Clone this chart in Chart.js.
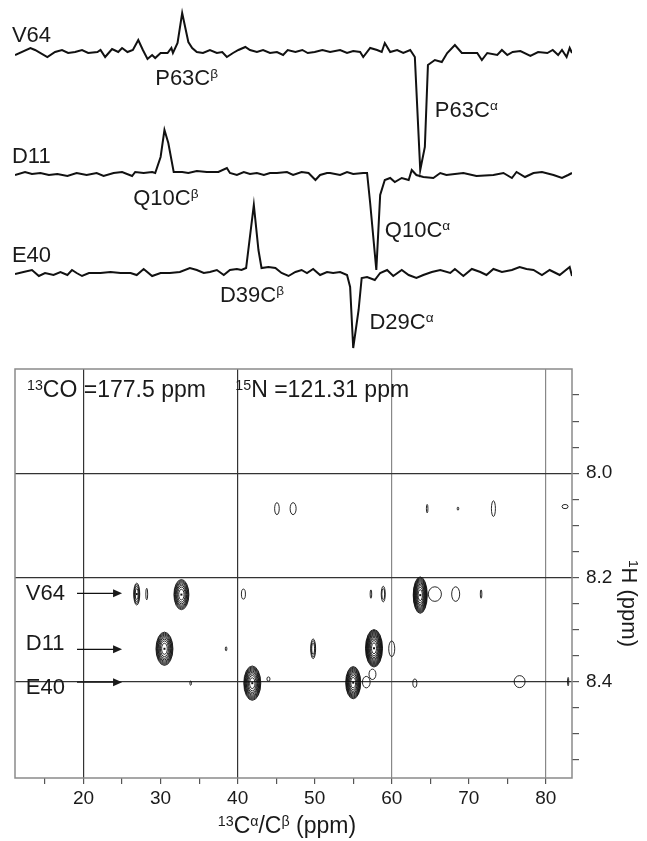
<!DOCTYPE html>
<html>
<head>
<meta charset="utf-8">
<script src="https://cdn.jsdelivr.net/npm/chart.js"></script>
<style>
  html, body { margin: 0; padding: 0; background: #fff; }
  #wrap { position: relative; width: 647px; height: 841px; }
  canvas { position: absolute; left: 0; }
  #traces { top: 0; }
  #plane { top: 360px; }
</style>
</head>
<body>
<div id="wrap">
  <canvas id="traces" width="647" height="360"></canvas>
  <canvas id="plane" width="647" height="481"></canvas>
</div>
<script>
// 1D strips (13C ppm, intensity) taken at each amide row
const v64X = [11.1,13.1,13.7,15.3,16.3,17.2,18.0,18.9,19.8,20.6,21.8,22.2,22.8,23.7,24.5,25.0,25.7,26.4,27.1,27.7,28.3,28.9,29.3,30.0,30.9,31.4,31.6,32.2,32.8,33.6,34.1,34.7,35.5,36.4,37.3,38.0,38.6,39.4,40.1,41.0,41.6,42.5,43.3,44.2,45.1,45.9,46.5,47.5,48.4,49.1,50.0,51.0,52.0,53.3,54.2,55.0,55.9,56.3,57.2,58.1,58.7,59.1,59.8,60.7,61.5,62.4,63.0,63.7,64.3,64.7,65.6,66.5,67.2,68.2,69.1,70.2,71.1,71.7,72.4,73.7,74.3,75.0,75.7,76.7,78.0,79.0,80.2,80.9,81.6,82.1,82.7,83.1,83.4];
const v64Y = [-3,4,2,-5,0,2,-1,0,2,-1,0,2,-5,3,0,4,0,2,12,2,-7,-3,-6,-1,-1,4,-1,9,39,10,4,0,-1,2,-1,0,-5,-1,2,5,2,0,2,-1,0,-3,2,0,2,-1,0,2,0,2,-1,1,0,-5,4,2,0,9,0,2,-1,2,-5,-118,-95,-13,-8,-10,-1,7,-1,-1,-1,-8,-1,-3,2,-3,0,1,-4,0,-1,2,-3,2,-5,4,-1];

const d11X = [11.1,12.4,13.3,14.4,15.5,16.6,17.9,19.1,20.4,21.7,22.6,23.9,25.0,26.3,26.7,27.8,28.9,29.3,30.0,30.5,31.0,31.7,32.8,33.6,34.7,36.0,37.5,38.6,39.0,39.9,40.8,41.6,42.5,43.4,44.2,45.1,46.4,47.2,48.3,49.2,50.1,50.7,51.6,52.0,53.3,54.2,55.0,56.3,56.8,57.2,58.0,58.5,59.1,59.8,60.4,61.3,62.2,62.6,63.2,64.1,65.4,66.3,67.1,69.3,71.0,73.2,74.5,75.6,76.2,77.3,78.4,79.5,81.0,82.1,82.9,83.4];
const d11Y = [-2,1,-1,0,-2,-1,-3,0,-2,0,-3,0,1,-3,1,0,1,0,16,43,30,1,1,0,2,1,1,5,0,-2,1,-1,0,-2,0,0,1,-2,1,0,-7,-2,0,0,-2,1,-1,0,0,-30,-97,-22,-7,-5,-9,-5,-7,3,-2,-4,-5,0,-2,0,-3,-2,0,-5,1,-4,0,1,-2,-5,-2,0];

const e40X = [11.1,12.2,13.3,14.2,15.0,16.1,17.0,17.9,18.5,19.1,19.8,20.7,22.2,23.5,24.8,26.1,26.9,27.8,28.9,30.0,31.2,32.5,33.8,34.7,35.6,36.4,37.3,38.2,39.0,39.9,40.5,41.1,42.1,42.7,43.1,44.0,44.9,45.7,46.6,47.5,48.3,49.0,49.8,50.7,51.6,52.4,53.3,54.2,54.6,55.0,55.7,56.1,56.8,57.8,58.5,59.4,60.2,61.3,62.2,63.2,64.1,65.2,66.3,67.6,68.2,69.3,70.4,71.5,72.3,73.2,74.3,75.6,76.6,77.5,78.4,79.5,80.5,81.8,83.1,83.4];
const e40Y = [-2,0,2,-4,-1,-3,0,-3,2,-1,-4,-1,-1,0,-1,-1,-3,3,-4,-1,-1,0,4,2,-1,0,2,-3,2,3,2,4,67,22,4,5,4,-1,-4,0,2,-1,3,-3,0,-1,0,-3,-15,-76,-38,-6,-5,-8,-1,2,-4,2,-3,-6,-3,0,2,-1,3,-4,3,0,-3,3,0,2,5,3,2,-3,2,-3,5,-4];

// strip labels: text, 13C ppm, strip value
const stripNames = ['V64', 'D11', 'E40'];
const stripBase = [308, 187, 88];
const peakNames = [['P63C', 'β'], ['P63C', 'α'], ['Q10C', 'β'], ['Q10C', 'α'], ['D39C', 'β'], ['D29C', 'α']];
const peakNameX = [29.3, 65.6, 26.45, 59.1, 37.7, 57.1];
const peakNameY = [275, 243, 155, 123, 58, 31];

// 2D peaks: 13C ppm, 1H ppm, half widths (ppm), contour levels
const peakC = [26.9, 28.2, 32.7, 40.75, 57.3, 58.9, 63.7, 65.6, 68.3, 71.6, 30.5, 38.5, 49.8, 57.7, 60.0, 33.9, 41.9, 44.0, 55.0, 56.7, 57.5, 63.0, 76.6, 82.9, 45.1, 47.2, 64.6, 68.6, 73.2, 82.5];
const peakH = [8.232, 8.232, 8.233, 8.232, 8.232, 8.232, 8.234, 8.232, 8.232, 8.232, 8.337, 8.337, 8.337, 8.336, 8.337, 8.403, 8.403, 8.395, 8.402, 8.401, 8.386, 8.403, 8.400, 8.400, 8.068, 8.068, 8.068, 8.068, 8.068, 8.064];
const peakWC = [0.39, 0.12, 0.97, 0.26, 0.10, 0.26, 0.91, 0.85, 0.52, 0.10, 1.10, 0.10, 0.32, 1.10, 0.39, 0.10, 1.10, 0.20, 0.97, 0.50, 0.45, 0.26, 0.71, 0.07, 0.30, 0.39, 0.10, 0.10, 0.26, 0.39];
const peakWH = [0.021, 0.011, 0.029, 0.0096, 0.008, 0.015, 0.035, 0.014, 0.014, 0.008, 0.032, 0.004, 0.019, 0.036, 0.015, 0.004, 0.033, 0.004, 0.031, 0.011, 0.010, 0.008, 0.0115, 0.008, 0.0115, 0.0115, 0.008, 0.003, 0.015, 0.004];
const peakLevels = [4, 1, 8, 1, 1, 2, 11, 1, 1, 1, 9, 1, 3, 12, 1, 1, 10, 1, 10, 1, 1, 1, 1, 1, 1, 1, 1, 1, 1, 1];

// row markers in the 2D plane
const rowNames = ['V64', 'D11', 'E40'];
const rowH = [8.2305, 8.338, 8.401];
const rowNameC = 12.5;
const rowNameH = [8.243, 8.339, 8.424];
const arrowFrom = 19.15, arrowTo = 25.0;

// axes
const cMin = 11.1, cMax = 83.4;
const hMin = 7.80, hMax = 8.585;
const xTicks = [15, 20, 25, 30, 35, 40, 45, 50, 55, 60, 65, 70, 75, 80];
const xTickLabels = [20, 30, 40, 50, 60, 70, 80];
const xGridDark = [20, 40];
const xGridLight = [60, 80];
const yTicks = [7.85, 7.9, 7.95, 8.0, 8.05, 8.1, 8.15, 8.2, 8.25, 8.3, 8.35, 8.4, 8.45, 8.5, 8.55];
const yTickLabels = [8.0, 8.2, 8.4];

const FONT = '"Liberation Sans", Arial, Helvetica, sans-serif';
const INK = '#1a1a1a';

function near(v, list) {
    return list.some(t => Math.abs(t - v) < 1e-6);
}

// text with superscript pieces: [[text, 's'|''], ...]
function drawRich(ctx, parts, x, y, size, align) {
    let w = 0;
    parts.forEach(p => {
        ctx.font = (p[1] === 's' ? size * 0.62 : size) + 'px ' + FONT;
        w += ctx.measureText(p[0]).width;
    });
    let cx = align === 'center' ? x - w / 2 : x;
    ctx.textAlign = 'left';
    ctx.textBaseline = 'alphabetic';
    parts.forEach(p => {
        const sup = p[1] === 's';
        ctx.font = (sup ? size * 0.62 : size) + 'px ' + FONT;
        ctx.fillText(p[0], cx, sup ? y - size * 0.3 : y);
        cx += ctx.measureText(p[0]).width;
    });
}

// ---------- top: 1D strips ----------
const strips = [[v64X, v64Y], [d11X, d11Y], [e40X, e40Y]];

const stripLabels = {
    id: 'stripLabels',
    afterDraw(chart) {
        const { ctx, scales: { x, y } } = chart;
        ctx.save();
        ctx.fillStyle = INK;
        stripNames.forEach((n, i) => {
            drawRich(ctx, [[n, '']], x.getPixelForValue(10.7), y.getPixelForValue(stripBase[i] + 10), 22);
        });
        peakNames.forEach((p, i) => {
            drawRich(ctx, [[p[0], ''], [p[1], 's']], x.getPixelForValue(peakNameX[i]), y.getPixelForValue(peakNameY[i]), 22);
        });
        ctx.restore();
    }
};

new Chart(document.getElementById('traces'), {
    type: 'line',
    data: {
        datasets: strips.map((s, i) => ({
            data: s[0].map((c, j) => ({ x: c, y: stripBase[i] + s[1][j] })),
            borderColor: '#111',
            borderWidth: 2,
            pointRadius: 0,
            tension: 0
        }))
    },
    options: {
        responsive: false,
        animation: false,
        layout: { padding: { left: 15, right: 75, top: 0, bottom: 0 } },
        scales: {
            x: { type: 'linear', min: cMin, max: cMax, display: false },
            y: { min: 0, max: 360, display: false }
        },
        plugins: { legend: { display: false }, tooltip: { enabled: false } }
    },
    plugins: [stripLabels]
});

// ---------- bottom: 2D plane ----------
const contours = {
    id: 'contours',
    beforeDatasetsDraw(chart) {
        const { ctx, chartArea: a, scales: { x, y } } = chart;
        ctx.save();
        ctx.beginPath();
        ctx.rect(a.left, a.top, a.width, a.height);
        ctx.clip();
        ctx.strokeStyle = '#111';
        ctx.lineWidth = 0.9;
        peakC.forEach((c, i) => {
            const cx = x.getPixelForValue(c), cy = y.getPixelForValue(peakH[i]);
            const rx = Math.abs(x.getPixelForValue(c + peakWC[i]) - cx);
            const ry = Math.abs(y.getPixelForValue(peakH[i] + peakWH[i]) - cy);
            const n = peakLevels[i];
            for (let k = 0; k < n; k++) {
                const s = Math.sqrt((n - k) / n);
                ctx.beginPath();
                ctx.ellipse(cx, cy, Math.max(rx * s, 0.6), Math.max(ry * s, 0.6), 0, 0, Math.PI * 2);
                ctx.stroke();
            }
            if (n > 3) {
                ctx.fillStyle = '#111';
                ctx.fillRect(cx - 1, cy - 1, 2, 2);
            }
        });
        ctx.restore();
    },
    afterDraw(chart) {
        const { ctx, chartArea: a, scales: { x, y } } = chart;
        ctx.save();
        // frame
        ctx.strokeStyle = '#8a8a8a';
        ctx.lineWidth = 1.5;
        ctx.strokeRect(a.left, a.top, a.width, a.height);

        ctx.fillStyle = INK;
        drawRich(ctx, [['13', 's'], ['CO =177.5 ppm', '']], x.getPixelForValue(12.66), y.getPixelForValue(7.854), 23);
        drawRich(ctx, [['15', 's'], ['N =121.31 ppm', '']], x.getPixelForValue(39.7), y.getPixelForValue(7.854), 23);

        // row names and arrows
        ctx.strokeStyle = '#111';
        ctx.lineWidth = 1.3;
        rowNames.forEach((n, i) => {
            drawRich(ctx, [[n, '']], x.getPixelForValue(rowNameC), y.getPixelForValue(rowNameH[i]), 22);
            const x0 = x.getPixelForValue(arrowFrom), x1 = x.getPixelForValue(arrowTo);
            const yy = y.getPixelForValue(rowH[i]);
            ctx.beginPath();
            ctx.moveTo(x0, yy);
            ctx.lineTo(x1 - 6, yy);
            ctx.stroke();
            ctx.beginPath();
            ctx.moveTo(x1, yy);
            ctx.lineTo(x1 - 9, yy - 4);
            ctx.lineTo(x1 - 9, yy + 4);
            ctx.closePath();
            ctx.fill();
        });

        // axis titles
        drawRich(ctx, [['13', 's'], ['C', ''], ['α', 's'], ['/C', ''], ['β', 's'], [' (ppm)', '']],
            x.getPixelForValue(46.4), a.bottom + 55, 23, 'center');
        ctx.translate(a.right + 50, y.getPixelForValue(8.25));
        ctx.rotate(Math.PI / 2);
        drawRich(ctx, [['1', 's'], ['H (ppm)', '']], 0, 0, 22, 'center');
        ctx.restore();
    }
};

new Chart(document.getElementById('plane'), {
    type: 'scatter',
    data: { datasets: [{ data: [] }] },
    options: {
        responsive: false,
        animation: false,
        layout: { padding: { left: 15, right: 0, top: 9, bottom: 0 } },
        scales: {
            x: {
                type: 'linear', position: 'bottom', min: cMin, max: cMax,
                afterBuildTicks: s => { s.ticks = xTicks.map(v => ({ value: v })); },
                afterFit: s => { s.height = 63; s.paddingLeft = 0; s.paddingRight = 0; },
                border: { display: false },
                grid: {
                    color: c => near(c.tick.value, xGridDark) ? '#333' : (near(c.tick.value, xGridLight) ? '#888' : 'rgba(0,0,0,0)'),
                    lineWidth: 1.2,
                    drawTicks: true, tickLength: 6, tickColor: '#555', tickWidth: 1.2
                },
                ticks: {
                    callback: v => near(v, xTickLabels) ? String(v) : '',
                    font: { family: FONT, size: 19 }, color: INK,
                    padding: 3, maxRotation: 0, autoSkip: false
                }
            },
            y: {
                type: 'linear', position: 'right', reverse: true, min: hMin, max: hMax,
                afterBuildTicks: s => { s.ticks = yTicks.map(v => ({ value: v })); },
                afterFit: s => { s.width = 75; s.paddingTop = 0; s.paddingBottom = 0; },
                border: { display: false },
                grid: {
                    color: c => near(c.tick.value, yTickLabels) ? '#333' : 'rgba(0,0,0,0)',
                    lineWidth: 1.2,
                    drawTicks: true, tickLength: 7, tickColor: '#555', tickWidth: 1.2
                },
                ticks: {
                    callback: v => near(v, yTickLabels) ? v.toFixed(1) : '',
                    font: { family: FONT, size: 19 }, color: INK,
                    padding: 7, autoSkip: false
                }
            }
        },
        plugins: { legend: { display: false }, tooltip: { enabled: false } }
    },
    plugins: [contours]
});
</script>
</body>
</html>
